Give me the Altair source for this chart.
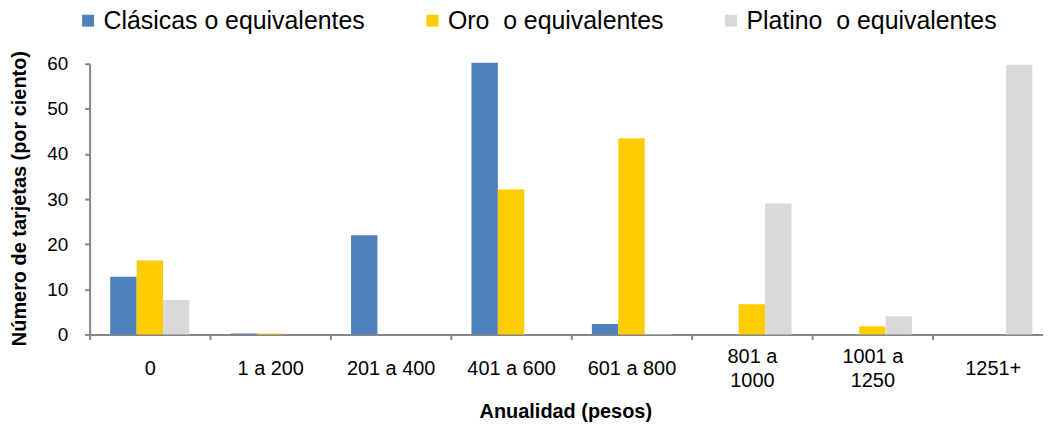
import altair as alt
import pandas as pd

categories = ["0", "1 a 200", "201 a 400", "401 a 600", "601 a 800",
              "801 a|1000", "1001 a|1250", "1251+"]
series_names = ["Clásicas o equivalentes", "Oro\u00a0 o equivalentes",
                "Platino\u00a0 o equivalentes"]
clasicas = [12.8, 0.2, 22.0, 60.2, 2.3, 0.0, 0.0, 0.0]
oro = [16.4, 0.2, 0.0, 32.1, 43.5, 6.7, 1.8, 0.0]
platino = [7.6, 0.0, 0.0, 0.0, 0.1, 29.0, 4.0, 59.8]
colors = ["#4F81BD", "#FFCC00", "#D9D9D9"]
y_ticks = [0, 10, 20, 30, 40, 50, 60]

rows = []
for name, vals in zip(series_names, [clasicas, oro, platino]):
    for c, v in zip(categories, vals):
        rows.append({"cat": c, "serie": name, "valor": v})
df = pd.DataFrame(rows)

FONT = "Liberation Sans"
AXIS_GRAY = "#878787"
BLANK = "\u2800"
label_expr = (
    "indexof(datum.label, '|') >= 0 ? "
    "[split(datum.label, '|')[0], '" + BLANK + "', split(datum.label, '|')[1]] : "
    "['', datum.label]"
)

chart = alt.Chart(df).mark_bar().encode(
    x=alt.X("cat:N", sort=categories,
            scale=alt.Scale(range=[0, 968], paddingInner=0, paddingOuter=0),
            axis=alt.Axis(title="Anualidad (pesos)", labelExpr=label_expr,
                          tickBand="extent", labelAngle=0, labelBaseline="middle",
                          labelPadding=17, tickSize=5, labelFontSize=20,
                          labelLineHeight=12, labelFont=FONT, labelColor="#000",
                          domainColor=AXIS_GRAY, domainWidth=2, tickColor=AXIS_GRAY,
                          tickWidth=2, titleFont=FONT, titleFontSize=20,
                          titleFontWeight="bold", titleColor="#000",
                          titleBaseline="middle", titleY=77, titleX=478,
                          titleAlign="center", grid=False)),
    xOffset=alt.XOffset("serie:N", sort=series_names,
                        scale=alt.Scale(paddingInner=0, paddingOuter=0.78)),
    y=alt.Y("valor:Q",
            scale=alt.Scale(domain=[0, 60], nice=False),
            axis=alt.Axis(title="Número de tarjetas (por ciento)", values=y_ticks,
                          tickSize=5, labelPadding=17, labelFontSize=19, labelFont=FONT,
                          labelColor="#000", domainColor=AXIS_GRAY, domainWidth=2,
                          tickColor=AXIS_GRAY, tickWidth=2, titleFont=FONT,
                          titleFontSize=20, titleFontWeight="bold", titleColor="#000",
                          titleAngle=270, titleX=-70, titleY=135,
                          titleBaseline="middle", titleAlign="center", grid=False)),
    color=alt.Color("serie:N", sort=series_names,
                    scale=alt.Scale(domain=series_names, range=colors),
                    legend=alt.Legend(title=None, orient="none", direction="horizontal",
                                      legendX=-14, legendY=-56, symbolType="square",
                                      symbolSize=144, symbolStrokeWidth=0,
                                      labelFontSize=25, labelFont=FONT, labelColor="#000",
                                      labelOffset=3, labelLimit=500, columnPadding=55,
                                      padding=0)),
).properties(
    width=958, height=272,
    autosize=alt.AutoSizeParams(type="none"),
    padding={"left": 82, "top": 55, "right": 0, "bottom": 90},
).configure_view(stroke=None)

chart.save("out.html", embed_options={"renderer": "svg", "actions": False})
